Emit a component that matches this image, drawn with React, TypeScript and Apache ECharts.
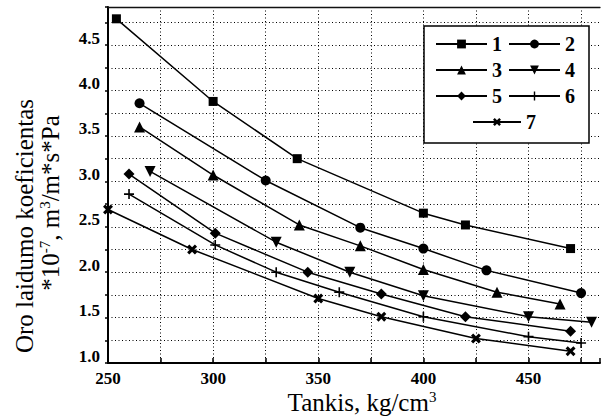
import React, { useEffect, useRef } from "react";
import * as echarts from "echarts";

// Density (kg/cm3) vs air permeability coefficient (*10^-7 m3/m*s*Pa)
const seriesNames = ["1", "2", "3", "4", "5", "6", "7"];
const series1 = [[254, 4.79], [300, 3.88], [340, 3.25], [400, 2.65], [420, 2.52], [470, 2.26]];
const series2 = [[265, 3.86], [325, 3.01], [370, 2.49], [400, 2.26], [430, 2.02], [475, 1.77]];
const series3 = [[265, 3.6], [300, 3.07], [341, 2.52], [370, 2.29], [400, 2.03], [435, 1.78], [465, 1.65]];
const series4 = [[270, 3.11], [330, 2.33], [365, 2.0], [400, 1.74], [450, 1.51], [480, 1.45]];
const series5 = [[260, 3.08], [301, 2.43], [345, 2.0], [380, 1.76], [420, 1.51], [470, 1.35]];
const series6 = [[260, 2.86], [301, 2.3], [330, 2.0], [360, 1.78], [400, 1.51], [450, 1.29], [475, 1.22]];
const series7 = [[250, 2.69], [290, 2.25], [350, 1.71], [380, 1.51], [425, 1.27], [470, 1.13]];
const allSeries = [series1, series2, series3, series4, series5, series6, series7];

const xMin = 250;
const xMax = 484;
const xStep = 25;
const yMin = 1.0;
const yMax = 4.92;
const yStep = 0.25;

const yTitle1 = "Oro laidumo koeficientas";
const yTitle2 = "{a|*10}{s|-7}{a|, m}{s|3}{a|/m*s*Pa}";
const xTitle = "{a|Tankis, kg/cm}{s|3}";

const SERIF = "Liberation Serif";

const PLUS = "path://M4.2,0H5.8V4.2H10V5.8H5.8V10H4.2V5.8H0V4.2H4.2Z";
const CROSS = "path://M3.6,0H6.4V3.6H10V6.4H6.4V10H3.6V6.4H0V3.6H3.6Z";

const symbols = [
  { symbol: "rect", size: 9, rotate: 0 },
  { symbol: "circle", size: 10, rotate: 0 },
  { symbol: "triangle", size: 11, rotate: 0 },
  { symbol: "triangle", size: 11, rotate: 180 },
  { symbol: "diamond", size: 11, rotate: 0 },
  { symbol: PLUS, size: 10, rotate: 0 },
  { symbol: CROSS, size: 11, rotate: 45 },
];

export default function App() {
  const ref = useRef<HTMLDivElement>(null);

  useEffect(() => {
    if (!ref.current) return;
    const chart = echarts.init(ref.current, null, { renderer: "svg" });

    const labelText = {
      fontFamily: SERIF,
      fontWeight: "bold" as const,
      fontSize: 17,
      color: "#000",
    };

    const legendText = {
      fontFamily: SERIF,
      fontWeight: "bold" as const,
      fontSize: 20,
      color: "#000",
      lineHeight: 20,
    };

    const titleRich = {
      a: { font: `25px ${SERIF}`, fontSize: 25, fontFamily: SERIF, lineHeight: 26, fill: "#000" },
      s: { font: `15px ${SERIF}`, fontSize: 15, fontFamily: SERIF, lineHeight: 14, verticalAlign: "top", fill: "#000" },
    };

    const option: any = {
      animation: false,
      backgroundColor: "#fff",
      textStyle: { fontFamily: SERIF },
      grid: { left: 108, right: 1, top: 7, bottom: 57, containLabel: false },
      xAxis: [
        {
          type: "value",
          min: xMin,
          max: xMax,
          interval: xStep,
          axisLine: { onZero: false, lineStyle: { color: "#000", width: 2 } },
          axisTick: { inside: true, length: 5, lineStyle: { color: "#000", width: 1.5 } },
          axisLabel: {
            ...labelText,
            margin: 7,
            formatter: (v: number) => (v % 50 === 0 && v <= 450 ? String(v) : ""),
          },
          splitLine: {
            show: true,
            showMinLine: false,
            showMaxLine: false,
            lineStyle: { color: "#000", width: 1, type: [1, 2.5] },
          },
        },
        {
          type: "value",
          position: "top",
          min: xMin,
          max: xMax,
          axisLine: { show: true, onZero: false, lineStyle: { color: "#111", width: 1.3 } },
          axisTick: { show: false },
          axisLabel: { show: false },
          splitLine: { show: false },
        },
      ],
      yAxis: {
        type: "value",
        min: yMin,
        max: yMax,
        interval: yStep,
        axisLine: { show: true, onZero: false, lineStyle: { color: "#000", width: 2 } },
        axisTick: { show: true, inside: false, length: 3, lineStyle: { color: "#000", width: 1.5 } },
        axisLabel: {
          ...labelText,
          margin: 8,
          verticalAlign: "bottom",
          lineHeight: 14,
          formatter: (v: number) => {
            const r = Math.round(v * 2);
            return Math.abs(v * 2 - r) < 1e-6 && v <= 4.5 ? v.toFixed(1) : "";
          },
        },
        splitLine: {
          show: true,
          showMinLine: false,
          showMaxLine: false,
          lineStyle: { color: "#000", width: 1, type: [1, 2.5] },
        },
      },
      legend: [
        {
          data: seriesNames.slice(0, 6),
          left: 424,
          top: 26,
          width: 140,
          orient: "horizontal",
          itemWidth: 51,
          itemHeight: 11,
          itemGap: 6,
          padding: [8, 14, 37, 11],
          borderColor: "#000",
          borderWidth: 1.5,
          backgroundColor: "#fff",
          selectedMode: false,
          textStyle: legendText,
        },
        {
          data: seriesNames.slice(6),
          left: 472,
          top: 112,
          itemWidth: 48,
          itemHeight: 11,
          padding: 0,
          selectedMode: false,
          textStyle: legendText,
        },
      ],
      series: allSeries.map((d, i) => ({
        name: seriesNames[i],
        type: "line",
        xAxisIndex: 0,
        data: d,
        symbol: symbols[i].symbol,
        symbolSize: symbols[i].size,
        symbolRotate: symbols[i].rotate,
        showSymbol: true,
        clip: false,
        itemStyle: { color: "#000", borderWidth: 0 },
        lineStyle: { color: "#000", width: 1.5 },
        emphasis: { disabled: true },
        z: 3,
      })),
      graphic: [
        {
          type: "text",
          x: 24,
          y: 226,
          rotation: Math.PI / 2,
          style: {
            text: yTitle1,
            fontSize: 25,
            fontFamily: SERIF,
            fill: "#000",
            align: "center",
            verticalAlign: "middle",
          },
        },
        {
          type: "text",
          x: 50,
          y: 203,
          rotation: Math.PI / 2,
          style: {
            text: yTitle2,
            fontSize: 25,
            fontFamily: SERIF,
            fill: "#000",
            align: "center",
            verticalAlign: "middle",
            rich: titleRich,
          },
        },
        {
          type: "text",
          x: 362,
          y: 402,
          style: {
            text: xTitle,
            fontSize: 25,
            fontFamily: SERIF,
            fill: "#000",
            align: "center",
            verticalAlign: "middle",
            rich: titleRich,
          },
        },
      ],
    };

    chart.setOption(option);
    return () => chart.dispose();
  }, []);

  return <div ref={ref} style={{ width: 603, height: 420, position: "absolute", left: 0, top: 0 }} />;
}
